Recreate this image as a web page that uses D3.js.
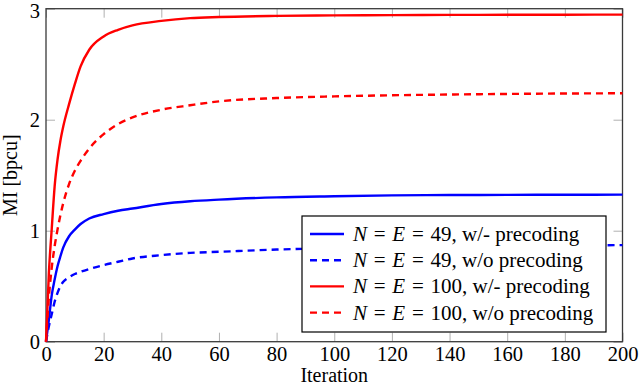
<!DOCTYPE html>
<html>
<head>
<meta charset="utf-8">
<script src="https://cdn.jsdelivr.net/npm/d3@7"></script>
<style>
  body { margin: 0; background: #fff; }
  svg { display: block; }
  text { font-family: "Liberation Serif", "Times New Roman", Times, serif; }
</style>
</head>
<body>
<div id="chart"></div>
<script>
var iters = [0, 1, 2, 3, 4, 5, 6, 8, 10, 12, 15, 20, 25, 30, 40, 50, 60, 80, 100, 120, 140, 160, 180, 200];

// N = E = 49
var n49Pre   = [0, 0.20, 0.42, 0.56, 0.68, 0.77, 0.85, 0.95, 1.01, 1.06, 1.11, 1.15, 1.18, 1.20, 1.24, 1.265, 1.28, 1.30, 1.31, 1.318, 1.321, 1.323, 1.324, 1.325];
var n49NoPre = [0, 0.14, 0.25, 0.36, 0.44, 0.50, 0.54, 0.58, 0.61, 0.63, 0.655, 0.69, 0.72, 0.75, 0.78, 0.80, 0.81, 0.83, 0.843, 0.852, 0.858, 0.863, 0.867, 0.87];
// N = E = 100
var n100Pre   = [0, 0.62, 1.02, 1.40, 1.64, 1.81, 1.94, 2.14, 2.32, 2.48, 2.63, 2.75, 2.81, 2.85, 2.89, 2.915, 2.925, 2.935, 2.94, 2.942, 2.944, 2.945, 2.946, 2.947];
var n100NoPre = [0, 0.40, 0.67, 0.86, 1.01, 1.14, 1.25, 1.42, 1.54, 1.63, 1.74, 1.87, 1.96, 2.02, 2.09, 2.13, 2.165, 2.195, 2.21, 2.22, 2.227, 2.232, 2.236, 2.238];

var seriesNames = ["49", "49", "100", "100"];
var seriesTags = ["w/- precoding", "w/o precoding", "w/- precoding", "w/o precoding"];
var xTicks = [0, 20, 40, 60, 80, 100, 120, 140, 160, 180, 200];
var yTicks = [0, 1, 2, 3];

var series = [
  { name: seriesNames[0], tag: seriesTags[0], values: n49Pre,    color: "#0000ff", dash: null },
  { name: seriesNames[1], tag: seriesTags[1], values: n49NoPre,  color: "#0000ff", dash: "7,5" },
  { name: seriesNames[2], tag: seriesTags[2], values: n100Pre,   color: "#ff0000", dash: null },
  { name: seriesNames[3], tag: seriesTags[3], values: n100NoPre, color: "#ff0000", dash: "7,5" }
];

var W = 640, H = 387;
var margin = { top: 8.7, right: 17.5, bottom: 45.3, left: 46 };
var w = W - margin.left - margin.right;
var h = H - margin.top - margin.bottom;

var svg = d3.select("#chart").append("svg")
  .attr("width", W)
  .attr("height", H);

var g = svg.append("g")
  .attr("transform", "translate(" + margin.left + "," + margin.top + ")");

var x = d3.scaleLinear().domain([0, 200]).range([0, w]);
var y = d3.scaleLinear().domain([0, 3]).range([h, 0]);

// axes with inward gray ticks on all four sides
function styleAxis(sel) {
  sel.attr("font-family", null).attr("font-size", null);
  sel.select(".domain").remove();
  sel.selectAll(".tick line").attr("stroke", "#b0b0b0").attr("stroke-width", 1);
  sel.selectAll("text").attr("fill", "#000").attr("font-size", "20.5px");
}

g.append("g")
  .attr("transform", "translate(0," + h + ")")
  .call(d3.axisBottom(x).tickValues(xTicks).tickSize(-9).tickPadding(5).tickFormat(d3.format("d")))
  .call(styleAxis);

g.append("g")
  .call(d3.axisTop(x).tickValues(xTicks).tickSize(-9).tickFormat(""))
  .call(styleAxis);

var yAxis = g.append("g")
  .call(d3.axisLeft(y).tickValues(yTicks).tickSize(-9).tickPadding(6).tickFormat(d3.format("d")))
  .call(styleAxis);

// keep the top label inside the picture
yAxis.selectAll(".tick text").filter(function (d) { return d === 3; })
  .attr("dy", "0.45em");

g.append("g")
  .attr("transform", "translate(" + w + ",0)")
  .call(d3.axisRight(y).tickValues(yTicks).tickSize(-9).tickFormat(""))
  .call(styleAxis);

// frame
g.append("rect")
  .attr("width", w)
  .attr("height", h)
  .attr("fill", "none")
  .attr("stroke", "#3a3a3a")
  .attr("stroke-width", 1.3);

// curves
var line = d3.line()
  .x(function (d, i) { return x(iters[i]); })
  .y(function (d) { return y(d); })
  .curve(d3.curveMonotoneX);

g.selectAll(".curve")
  .data(series)
  .enter().append("path")
  .attr("class", "curve")
  .attr("d", function (d) { return line(d.values); })
  .attr("fill", "none")
  .attr("stroke", function (d) { return d.color; })
  .attr("stroke-width", 2.4)
  .attr("stroke-dasharray", function (d) { return d.dash; });

// legend
var legend = svg.append("g").attr("transform", "translate(302,216)");
legend.append("rect")
  .attr("width", 304)
  .attr("height", 116)
  .attr("fill", "#fff")
  .attr("stroke", "#000")
  .attr("stroke-width", 1.2);

var item = legend.selectAll(".item")
  .data(series)
  .enter().append("g")
  .attr("class", "item")
  .attr("transform", function (d, i) { return "translate(0," + (18 + i * 26.2) + ")"; });

item.append("line")
  .attr("x1", 8).attr("x2", 42)
  .attr("stroke", function (d) { return d.color; })
  .attr("stroke-width", 2.4)
  .attr("stroke-dasharray", function (d) { return d.dash; });

// math-style spacing around "="
var label = item.append("text")
  .attr("x", 51)
  .attr("dy", "0.33em")
  .attr("font-size", "21px");
label.append("tspan").attr("font-style", "italic").text("N");
label.append("tspan").attr("dx", 1.5).text(" = ");
label.append("tspan").attr("dx", 1.5).attr("font-style", "italic").text("E");
label.append("tspan").attr("dx", 1.5).text(" = ");
label.append("tspan").attr("dx", 1.5).text(function (d) { return d.name + ", " + d.tag; });

// axis titles
svg.append("text")
  .attr("x", margin.left + w / 2)
  .attr("y", 382)
  .attr("text-anchor", "middle")
  .attr("font-size", "20px")
  .text("Iteration");

svg.append("text")
  .attr("transform", "translate(17," + (margin.top + h / 2) + ") rotate(-90)")
  .attr("text-anchor", "middle")
  .attr("font-size", "20px")
  .text("MI [bpcu]");
</script>
</body>
</html>
